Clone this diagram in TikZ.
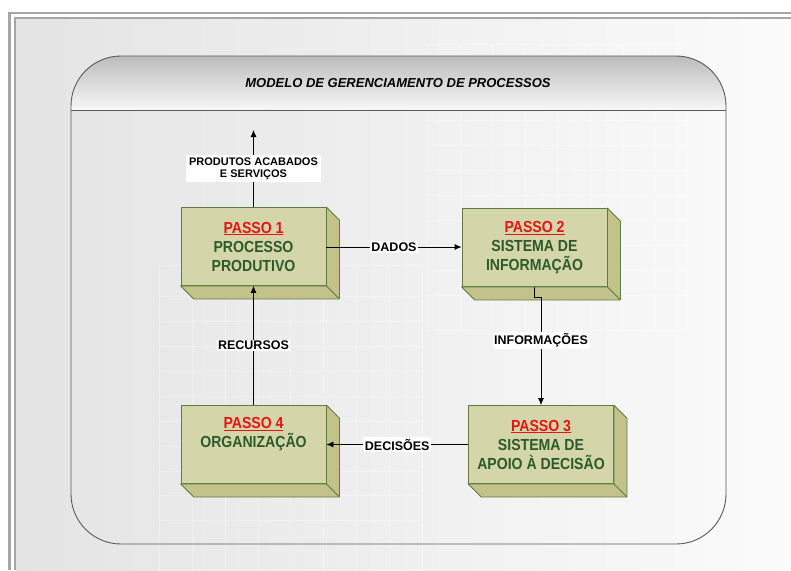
\documentclass[tikz,border=0pt]{standalone}
\usepackage{fontspec}
\setmainfont{Liberation Sans}
\newfontfamily\boxfont{Liberation Sans}[FakeStretch=0.88]
\usetikzlibrary{arrows.meta,calc}
\definecolor{boxfront}{HTML}{D4D5A9}
\definecolor{boxside}{HTML}{C2C28A}
\definecolor{boxedge}{HTML}{5E7B40}
\definecolor{boxtext}{HTML}{2C5A2A}
\definecolor{passored}{HTML}{E51515}
\definecolor{framegray}{HTML}{A6A6A6}
\definecolor{panelline}{HTML}{5A5A5A}
\tikzset{
  cubeface/.style={draw=boxedge, fill=boxfront, line width=0.8pt,
    minimum width=145pt, minimum height=78pt, inner sep=0pt, align=center,
    text=boxtext, font=\boxfont\bfseries\fontsize{16}{19}\selectfont},
  cubeside/.style={draw=boxedge, fill=boxside, line width=0.8pt, line join=round},
  conn/.style={draw=black, line width=0.8pt, -{Latex[length=7pt,width=6pt]}},
  lbl/.style={fill=white, inner xsep=1.5pt, inner ysep=1.5pt, text=black,
    font=\bfseries\fontsize{12.5}{14}\selectfont},
  gridline/.style={draw=white, line width=1pt, opacity=0.35}
}
\newcommand{\cubesides}[1]{%
  \path[cubeside] (#1.north east) -- ++(13,13) -- ($(#1.south east)+(13,13)$)
    -- ($(#1.south west)+(13,13)$) -- (#1.south west) -- (#1.south east) -- cycle;
  \draw[boxedge, line width=0.8pt] (#1.south east) -- ++(13,13);
}
\newcommand{\passo}[1]{{\color{passored}\underline{PASSO #1}}}
\begin{document}
\begin{tikzpicture}[x=1pt,y=-1pt]
\useasboundingbox (0,0) rectangle (791,570);
% page background
\fill[white] (0,0) rectangle (791,570);
\shade[left color={rgb,255:red,228;green,228;blue,228}, right color={rgb,255:red,251;green,251;blue,251}]
  (16,18.5) rectangle (791,570);
% double frame
\fill[framegray] (8,11.5) rectangle (791,13.5);
\fill[framegray] (8,11.5) rectangle (10.5,570);
\fill[framegray] (14,16.5) rectangle (791,18.5);
\fill[framegray] (14,16.5) rectangle (16,570);
% faint background grids
\draw[gridline] (427,44) rectangle (687,330);
\foreach \gx in {460,492,525,557,590,622,655} \draw[gridline] (\gx,44) -- (\gx,330);
\foreach \gy in {70,95,120,145,170,195,220,245,270,295} \draw[gridline] (427,\gy) -- (687,\gy);
\draw[gridline] (159,265) rectangle (422,570);
\foreach \gx in {192,225,258,290,323,356,389} \draw[gridline] (\gx,265) -- (\gx,570);
\foreach \gy in {296,321,346,371,396,421,446,471,495,520} \draw[gridline] (159,\gy) -- (422,\gy);
% panel
\begin{scope}
  \clip[rounded corners=50pt] (71,56) rectangle (726,544);
  \shade[top color={rgb,255:red,188;green,188;blue,188}, bottom color={rgb,255:red,248;green,248;blue,248}]
    (71,56) rectangle (726,110);
\end{scope}
\draw[panelline, line width=0.9pt] (71,110) -- (726,110);
\draw[panelline, line width=0.9pt, rounded corners=50pt] (71,56) rectangle (726,544);
\node[font=\bfseries\itshape\fontsize{13}{15}\selectfont] (title) at (398,83) {MODELO DE GERENCIAMENTO DE PROCESSOS};
% boxes
\node[cubeface] (b1) at (253.5,246.5) {\passo{1}\\PROCESSO\\PRODUTIVO};
\node[cubeface] (b2) at (534.5,247.5) {\passo{2}\\SISTEMA DE\\INFORMAÇÃO};
\node[cubeface] (b3) at (541,444.5) {\passo{3}\\SISTEMA DE\\APOIO À DECISÃO};
\node[cubeface] (b4) at (253.5,444.5) {\passo{4}\\ORGANIZAÇÃO\\\strut};
\cubesides{b1}
\cubesides{b2}
\cubesides{b3}
\cubesides{b4}
% connectors
\coordinate (out) at (253.5,130);
\draw[conn] (b1.north) -- (out)
  node[midway, fill=white, align=center, inner xsep=3pt, inner ysep=2pt,
       font=\bfseries\fontsize{11}{12.5}\selectfont] (lout) {PRODUTOS ACABADOS\\E SERVIÇOS};
\draw[conn] (b1.east |- 0,247) -- (b2.west |- 0,247) node[lbl, midway] (ldados) {DADOS};
\draw[conn] (b2.south) -- ++(0,10) -| (b3.north) node[lbl, pos=0.7] (linfo) {INFORMAÇÕES};
\draw[conn] (b3.west) -- (b3.west -| b4.east) node[lbl, midway] (ldec) {DECISÕES};
\draw[conn] (b4.north) -- (b1.south) node[lbl, midway] (lrec) {RECURSOS};
\end{tikzpicture}
\end{document}
